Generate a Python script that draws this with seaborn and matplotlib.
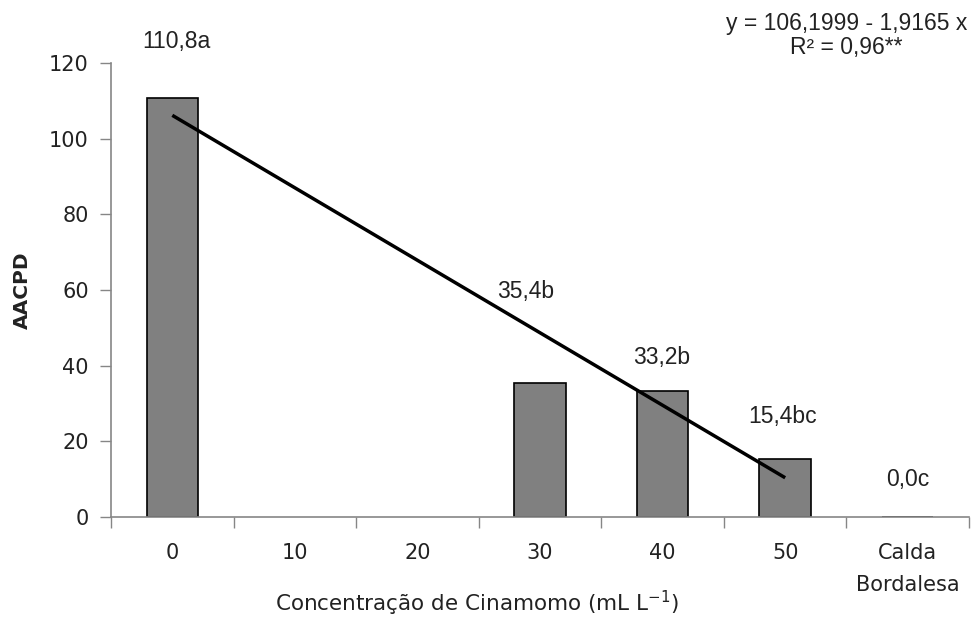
import matplotlib
matplotlib.use("Agg")
import matplotlib.pyplot as plt
import seaborn as sns
import numpy as np
import pandas as pd

categories = ["0", "10", "20", "30", "40", "50", "Calda\nBordalesa"]
values = [110.8, np.nan, np.nan, 35.4, 33.2, 15.4, 0.0]
bar_labels = ["110,8a", "", "", "35,4b", "33,2b", "15,4bc", "0,0c"]
# regression y = 106.1999 - 1.9165 x, drawn over the cinnamon concentrations
reg_intercept = 106.1999
reg_slope = -1.9165
reg_x = [0, 50]
eq_text = "y = 106,1999 - 1,9165 x\nR² = 0,96**"

# layout: label anchor heights (data units) and x shifts (category units)
label_y = [125.6, None, None, 59.5, 42.3, 26.7, 9.8]
label_dx = [0.03, 0, 0, -0.12, -0.01, -0.02, 0.0]

sns.set_theme(style="white")
plt.rcParams['font.family'] = ['DejaVu Sans']

fig = plt.figure(figsize=(9.8, 6.19), dpi=100)
ax = fig.add_axes([0.1133, 0.1648, 0.8755, 0.7332])

df = pd.DataFrame({"cat": categories, "val": values})
sns.barplot(data=df, x="cat", y="val", order=categories, color="#808080",
            saturation=1, edgecolor="black", linewidth=1.2, width=0.42, ax=ax,
            errorbar=None)

rx = np.array(reg_x, dtype=float)
ry = reg_intercept + reg_slope * rx
ax.plot(rx / 10.0, ry, color="black", lw=2.5, solid_capstyle="butt", zorder=5)

for i, lab in enumerate(bar_labels):
    if lab:
        ax.text(i + label_dx[i], label_y[i], lab, ha="center", va="center",
                fontsize=16.5, family=["Liberation Sans", "DejaVu Sans"],
                color="#222222", clip_on=False)

ax.set_xlim(-0.5, len(categories) - 0.5)
ax.set_ylim(0, 120)
ax.set_yticks(range(0, 121, 20))
ax.set_yticklabels([str(v) for v in range(0, 121, 20)], fontsize=15, color="#222222")
ax.set_xticks(range(len(categories)))
ax.set_xticklabels(categories, fontsize=15, color="#222222", linespacing=1.7)
ax.tick_params(axis="x", which="major", length=0, pad=19)
ax.set_xticks(np.arange(-0.5, len(categories)), minor=True)
ax.tick_params(axis="x", which="minor", length=8, width=1, color="#868686", direction="out", bottom=True)
ax.tick_params(axis="y", length=8, width=1, color="#868686", direction="out", left=True, pad=8)

for s in ["top", "right"]:
    ax.spines[s].set_visible(False)
for s in ["left", "bottom"]:
    ax.spines[s].set_color("#868686")
    ax.spines[s].set_linewidth(1.2)

ax.set_xlabel("Concentração de Cinamomo (mL L$^{-1}$)", fontsize=15.5, color="#222222")
ax.xaxis.set_label_coords(0.4266, -0.191)
ax.xaxis.label.set_va("center")
ax.set_ylabel("AACPD", fontsize=14.5, fontweight="bold", color="#222222")
ax.yaxis.set_label_coords(-0.1037, 0.5)
ax.yaxis.label.set_va("center")

fig.text(0.864, 0.942, eq_text, ha="center", va="center", fontsize=16.5,
         family=["Liberation Sans", "DejaVu Sans"], color="#222222", linespacing=1.05)

fig.savefig("out.png", dpi=100, facecolor="white")
